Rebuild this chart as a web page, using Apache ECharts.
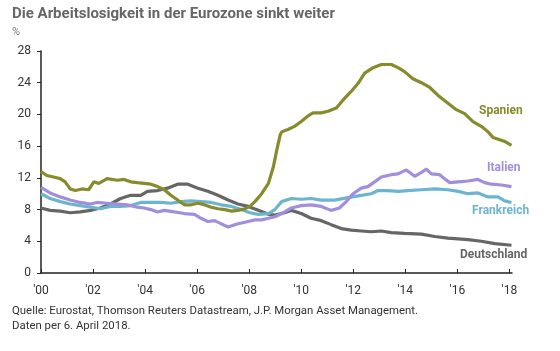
<!DOCTYPE html>
<html>
<head>
<meta charset="utf-8">
<script src="https://cdn.jsdelivr.net/npm/echarts@6/dist/echarts.min.js"></script>
<style>
  html, body { margin: 0; padding: 0; background: #fff; }
  #main { width: 560px; height: 351px; }
</style>
</head>
<body>
<div id="main"></div>
<script>
// Arbeitslosenquote in %
var yTicks = [0, 4, 8, 12, 16, 20, 24, 28];
var xTicks = ["'00", "'02", "'04", "'06", "'08", "'10", "'12", "'14", "'16", "'18"];

var spanienJahre = [2000.00, 2000.22, 2000.48, 2000.74, 2000.93, 2001.12, 2001.32, 2001.57, 2001.83, 2002.03,
  2002.22, 2002.54, 2002.93, 2003.19, 2003.45, 2003.70, 2003.96, 2004.22, 2004.48, 2004.74,
  2004.99, 2005.25, 2005.51, 2005.77, 2006.03, 2006.28, 2006.54, 2006.80, 2007.06, 2007.32,
  2007.57, 2007.83, 2008.03, 2008.22, 2008.48, 2008.74, 2008.93, 2009.06, 2009.19, 2009.25,
  2009.49, 2009.74, 2010.00, 2010.26, 2010.45, 2010.77, 2011.03, 2011.35, 2011.60, 2011.92,
  2012.18, 2012.44, 2012.76, 2013.08, 2013.46, 2013.72, 2013.97, 2014.29, 2014.62, 2014.94,
  2015.26, 2015.64, 2015.96, 2016.28, 2016.60, 2016.92, 2017.18, 2017.37, 2017.63, 2017.82, 2018.08];
var spanien = [12.8, 12.3, 12.1, 11.9, 11.5, 10.6, 10.4, 10.6, 10.5, 11.5,
  11.3, 11.9, 11.7, 11.8, 11.5, 11.4, 11.3, 11.2, 10.9, 10.5,
  9.8, 9.2, 8.6, 8.6, 8.8, 8.6, 8.3, 8.1, 8.0, 7.8,
  7.9, 8.1, 8.4, 9.0, 10.0, 11.3, 13.4, 15.5, 17.4, 17.8,
  18.1, 18.5, 19.1, 19.8, 20.2, 20.2, 20.4, 20.8, 21.8, 22.9,
  23.9, 25.2, 25.9, 26.3, 26.3, 25.9, 25.4, 24.5, 24.0, 23.4,
  22.4, 21.4, 20.6, 20.1, 19.1, 18.5, 17.8, 17.1, 16.8, 16.6, 16.1];

var italienJahre = [2000.00, 2000.35, 2000.74, 2001.12, 2001.51, 2001.90, 2002.15, 2002.54, 2002.93, 2003.32,
  2003.70, 2003.96, 2004.22, 2004.48, 2004.74, 2005.12, 2005.51, 2005.90, 2006.15, 2006.41,
  2006.67, 2006.93, 2007.19, 2007.45, 2007.70, 2007.96, 2008.22, 2008.48, 2008.74, 2008.99,
  2009.25, 2009.62, 2010.00, 2010.38, 2010.77, 2011.15, 2011.47, 2011.73, 2011.99, 2012.31,
  2012.56, 2012.82, 2013.08, 2013.46, 2013.72, 2014.04, 2014.36, 2014.62, 2014.81, 2015.00,
  2015.32, 2015.51, 2015.71, 2016.03, 2016.41, 2016.79, 2017.05, 2017.31, 2017.69, 2018.08];
var italien = [10.8, 10.1, 9.6, 9.2, 8.9, 8.7, 8.9, 8.8, 8.7, 8.6,
  8.3, 8.2, 8.0, 7.7, 7.9, 7.7, 7.5, 7.4, 6.9, 6.5,
  6.6, 6.2, 5.8, 6.1, 6.3, 6.5, 6.7, 6.7, 6.9, 7.1,
  7.5, 8.2, 8.5, 8.6, 8.4, 7.9, 8.2, 9.0, 10.0, 10.7,
  10.9, 11.5, 12.1, 12.4, 12.5, 13.0, 12.2, 12.7, 13.1, 12.5,
  12.4, 11.9, 11.4, 11.5, 11.6, 11.8, 11.4, 11.2, 11.1, 10.9];

var frankreichJahre = [2000.00, 2000.35, 2000.74, 2001.12, 2001.51, 2001.90, 2002.28, 2002.67, 2003.06, 2003.45,
  2003.83, 2004.22, 2004.61, 2004.99, 2005.38, 2005.77, 2006.15, 2006.54, 2006.93, 2007.32,
  2007.70, 2008.03, 2008.35, 2008.74, 2008.99, 2009.25, 2009.62, 2010.00, 2010.38, 2010.77,
  2011.28, 2011.79, 2012.31, 2012.69, 2012.95, 2013.33, 2013.72, 2014.10, 2014.62, 2015.13,
  2015.64, 2016.03, 2016.41, 2016.79, 2017.18, 2017.56, 2017.82, 2018.08];
var frankreich = [10.0, 9.4, 9.0, 8.7, 8.5, 8.3, 8.1, 8.4, 8.4, 8.5,
  8.9, 8.9, 8.9, 8.8, 9.0, 9.1, 9.0, 8.9, 8.6, 8.4,
  8.0, 7.6, 7.4, 7.5, 8.0, 9.0, 9.4, 9.3, 9.4, 9.2,
  9.2, 9.5, 9.8, 10.0, 10.4, 10.4, 10.3, 10.4, 10.5, 10.6,
  10.5, 10.3, 10.0, 10.1, 9.6, 9.6, 9.1, 8.9];

var deutschlandJahre = [2000.00, 2000.35, 2000.74, 2001.12, 2001.51, 2001.90, 2002.28, 2002.67, 2003.06, 2003.45,
  2003.83, 2004.09, 2004.48, 2004.86, 2005.25, 2005.64, 2006.03, 2006.41, 2006.80, 2007.19,
  2007.57, 2007.96, 2008.35, 2008.74, 2008.99, 2009.25, 2009.62, 2010.00, 2010.38, 2010.77,
  2011.15, 2011.54, 2011.92, 2012.31, 2012.69, 2013.08, 2013.46, 2013.97, 2014.62, 2015.13,
  2015.64, 2016.03, 2016.41, 2016.92, 2017.44, 2018.08];
var deutschland = [8.2, 7.9, 7.8, 7.6, 7.7, 7.9, 8.2, 8.7, 9.4, 9.8,
  9.8, 10.3, 10.4, 10.7, 11.2, 11.2, 10.7, 10.3, 9.8, 9.2,
  8.7, 8.4, 7.9, 7.4, 7.3, 7.5, 7.9, 7.5, 6.9, 6.6,
  6.1, 5.6, 5.4, 5.3, 5.2, 5.3, 5.1, 5.0, 4.9, 4.6,
  4.4, 4.3, 4.2, 4.0, 3.7, 3.5];

var farben = {
  Spanien: '#878b2c',
  Italien: '#a18fdb',
  Frankreich: '#6db5cf',
  Deutschland: '#666666'
};

function paare(jahre, werte) {
  return jahre.map(function (j, i) { return [j, werte[i]]; });
}

function linie(name, jahre, werte) {
  return {
    name: name,
    type: 'line',
    data: paare(jahre, werte),
    showSymbol: false,
    smooth: false,
    lineStyle: { width: 3.2, color: farben[name] },
    itemStyle: { color: farben[name] },
    z: name === 'Spanien' ? 3 : 2
  };
}

var myChart = echarts.init(document.getElementById('main'));
myChart.setOption({
  animation: false,
  textStyle: { fontFamily: 'Roboto' },
  grid: { left: 41, right: 48, top: 51, bottom: 78 },
  xAxis: {
    type: 'value',
    min: 2000,
    max: 2018.1,
    interval: 2,
    axisLine: { lineStyle: { color: '#222', width: 1.5 } },
    axisTick: { inside: true, length: 4, lineStyle: { color: '#222' } },
    splitLine: { show: false },
    axisLabel: {
      color: '#333',
      fontSize: 12,
      margin: 12,
      showMaxLabel: false,
      formatter: function (v) {
        var i = Math.round((v - 2000) / 2);
        return (Math.abs(v - (2000 + i * 2)) < 0.01) ? xTicks[i] : '';
      }
    }
  },
  yAxis: {
    type: 'value',
    min: 0,
    max: 28,
    interval: 4,
    axisLine: { show: true, lineStyle: { color: '#222', width: 1.5 } },
    axisTick: { show: true, length: 4, lineStyle: { color: '#222' } },
    splitLine: { show: false },
    axisLabel: {
      color: '#333',
      fontSize: 12,
      margin: 10,
      formatter: function (v) { return yTicks.indexOf(v) >= 0 ? String(v) : ''; }
    }
  },
  graphic: [
    { type: 'text', left: 12, top: 7, style: { text: 'Die Arbeitslosigkeit in der Eurozone sinkt weiter', fill: '#666', font: 'bold 15px Roboto' } },
    { type: 'text', left: 12, top: 27, style: { text: '%', fill: '#777', font: '11px Roboto' } },
    { type: 'text', left: 479, top: 105, style: { text: 'Spanien', fill: farben.Spanien, font: 'bold 12px Roboto' } },
    { type: 'text', left: 487, top: 162, style: { text: 'Italien', fill: farben.Italien, font: 'bold 12px Roboto' } },
    { type: 'text', left: 472, top: 205, style: { text: 'Frankreich', fill: farben.Frankreich, font: 'bold 12px Roboto' } },
    { type: 'text', left: 460, top: 249, style: { text: 'Deutschland', fill: farben.Deutschland, font: 'bold 12px Roboto' } },
    { type: 'text', left: 12, top: 306, style: { text: 'Quelle: Eurostat, Thomson Reuters Datastream, J.P. Morgan Asset Management.', fill: '#333', font: '11.4px Roboto' } },
    { type: 'text', left: 12, top: 321, style: { text: 'Daten per 6. April 2018.', fill: '#333', font: '11.4px Roboto' } }
  ],
  series: [
    linie('Deutschland', deutschlandJahre, deutschland),
    linie('Frankreich', frankreichJahre, frankreich),
    linie('Italien', italienJahre, italien),
    linie('Spanien', spanienJahre, spanien)
  ]
});
</script>
</body>
</html>
